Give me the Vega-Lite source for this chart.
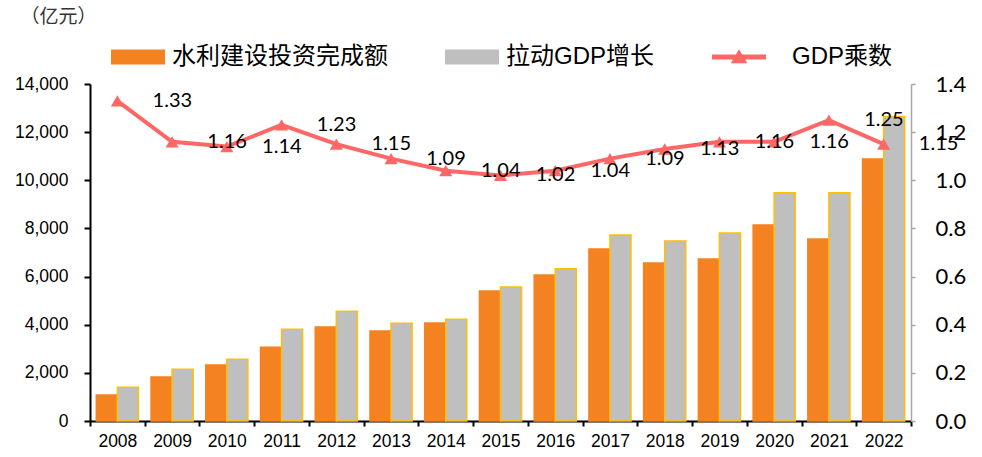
{
  "$schema": "https://vega.github.io/schema/vega-lite/v6.json",
  "width": 821,
  "height": 337,
  "autosize": {"type": "none"},
  "padding": {"left": 90, "top": 84, "right": 71, "bottom": 36},
  "background": "white",
  "config": {"view": {"stroke": null}, "axis": {"grid": false}},
  "datasets": {
    "bars": [
      {"year": "2008", "series": "水利建设投资完成额", "value": 1080},
      {"year": "2009", "series": "水利建设投资完成额", "value": 1828},
      {"year": "2010", "series": "水利建设投资完成额", "value": 2326},
      {"year": "2011", "series": "水利建设投资完成额", "value": 3060},
      {"year": "2012", "series": "水利建设投资完成额", "value": 3905},
      {"year": "2013", "series": "水利建设投资完成额", "value": 3739},
      {"year": "2014", "series": "水利建设投资完成额", "value": 4071},
      {"year": "2015", "series": "水利建设投资完成额", "value": 5400},
      {"year": "2016", "series": "水利建设投资完成额", "value": 6066},
      {"year": "2017", "series": "水利建设投资完成额", "value": 7146},
      {"year": "2018", "series": "水利建设投资完成额", "value": 6564},
      {"year": "2019", "series": "水利建设投资完成额", "value": 6731},
      {"year": "2020", "series": "水利建设投资完成额", "value": 8143},
      {"year": "2021", "series": "水利建设投资完成额", "value": 7561},
      {"year": "2022", "series": "水利建设投资完成额", "value": 10885},
      {"year": "2008", "series": "拉动GDP增长", "value": 1400},
      {"year": "2009", "series": "拉动GDP增长", "value": 2150},
      {"year": "2010", "series": "拉动GDP增长", "value": 2570},
      {"year": "2011", "series": "拉动GDP增长", "value": 3810},
      {"year": "2012", "series": "拉动GDP增长", "value": 4560},
      {"year": "2013", "series": "拉动GDP增长", "value": 4060},
      {"year": "2014", "series": "拉动GDP增长", "value": 4230},
      {"year": "2015", "series": "拉动GDP增长", "value": 5570},
      {"year": "2016", "series": "拉动GDP增长", "value": 6320},
      {"year": "2017", "series": "拉动GDP增长", "value": 7730},
      {"year": "2018", "series": "拉动GDP增长", "value": 7480},
      {"year": "2019", "series": "拉动GDP增长", "value": 7810},
      {"year": "2020", "series": "拉动GDP增长", "value": 9480},
      {"year": "2021", "series": "拉动GDP增长", "value": 9480},
      {"year": "2022", "series": "拉动GDP增长", "value": 12650}
    ],
    "mult": [
      {"year": "2008", "m": 1.33},
      {"year": "2009", "m": 1.16},
      {"year": "2010", "m": 1.14},
      {"year": "2011", "m": 1.23},
      {"year": "2012", "m": 1.15},
      {"year": "2013", "m": 1.09},
      {"year": "2014", "m": 1.04},
      {"year": "2015", "m": 1.02},
      {"year": "2016", "m": 1.04},
      {"year": "2017", "m": 1.09},
      {"year": "2018", "m": 1.13},
      {"year": "2019", "m": 1.16},
      {"year": "2020", "m": 1.16},
      {"year": "2021", "m": 1.25},
      {"year": "2022", "m": 1.15}
    ]
  },
  "encoding": {
    "x": {
      "field": "year",
      "type": "nominal",
      "scale": {"paddingInner": 0, "paddingOuter": 0},
      "axis": {
        "labelAngle": 0,
        "tickBand": "extent",
        "domainColor": "#000",
        "domainWidth": 2,
        "tickColor": "#000",
        "tickWidth": 2,
        "tickSize": 5,
        "labelFont": "Liberation Sans",
        "labelFontSize": 17.5,
        "labelColor": "#000",
        "labelPadding": 6,
        "title": null
      }
    }
  },
  "layer": [
    {
      "data": {"name": "bars"},
      "mark": {"type": "bar", "strokeWidth": 1.5},
      "encoding": {
        "xOffset": {
          "field": "series",
          "type": "nominal",
          "sort": ["水利建设投资完成额", "拉动GDP增长"],
          "scale": {"paddingOuter": 0.3, "paddingInner": 0}
        },
        "y": {
          "field": "value",
          "type": "quantitative",
          "scale": {"domain": [0, 14000], "nice": false},
          "axis": {
            "orient": "left",
            "values": [0, 2000, 4000, 6000, 8000, 10000, 12000, 14000],
            "format": ",.0f",
            "domainColor": "#000",
            "domainWidth": 2,
            "tickColor": "#000",
            "tickWidth": 2,
            "tickSize": 6,
            "labelFont": "Liberation Sans",
            "labelFontSize": 17.5,
            "labelColor": "#000",
            "labelPadding": 16,
            "title": "（亿元）",
            "titleAngle": 0,
            "titleX": -70,
            "titleY": -68,
            "titleAlign": "left",
            "titleBaseline": "middle",
            "titleFont": "Noto Sans CJK SC",
            "titleFontSize": 19,
            "titleFontWeight": "normal",
            "titleColor": "#333"
          }
        },
        "color": {
          "field": "series",
          "type": "nominal",
          "scale": {
            "domain": ["水利建设投资完成额", "拉动GDP增长", "GDP乘数"],
            "range": ["#F58220", "#BFBFBF", "#FF6666"]
          },
          "legend": {
            "orient": "none",
            "legendX": 21,
            "legendY": -54,
            "direction": "horizontal",
            "title": null,
            "symbolSize": 2704,
            "labelFontSize": 24,
            "labelFont": "Liberation Sans, Noto Sans CJK SC",
            "labelColor": "#000",
            "labelOffset": 7,
            "labelLimit": 400,
            "columnPadding": 54,
            "encode": {
              "symbols": {
                "update": {
                  "shape": {"signal": "datum.value === 'GDP乘数' ? 'M-1,-0.055H1V0.055H-1Z M-0.25,0.2L0,-0.22L0.25,0.2Z' : 'M-1,-0.25H1V0.25H-1Z'"},
                  "fill": {"signal": "datum.value === '水利建设投资完成额' ? '#F58220' : datum.value === '拉动GDP增长' ? '#BFBFBF' : '#FF6666'"},
                  "stroke": {"signal": "datum.value === '拉动GDP增长' ? '#FFC000' : 'transparent'"},
                  "strokeWidth": {"value": 2},
                  "opacity": {"value": 1},
                  "fillOpacity": {"value": 1}
                }
              },
              "labels": {
                "update": {
                  "dx": {"signal": "datum.value === 'GDP乘数' ? 19 : 0"}
                }
              }
            }
          }
        },
        "stroke": {
          "field": "series",
          "type": "nominal",
          "scale": {
            "domain": ["水利建设投资完成额", "拉动GDP增长"],
            "range": ["#F58220", "#FFC000"]
          },
          "legend": null
        }
      }
    },
    {
      "data": {"name": "mult"},
      "encoding": {
        "y": {
          "field": "m",
          "type": "quantitative",
          "scale": {"domain": [0, 1.4], "nice": false, "zero": true},
          "axis": {
            "orient": "right",
            "values": [0, 0.2, 0.4, 0.6, 0.8, 1.0, 1.2, 1.4],
            "format": ".1f",
            "domainColor": "#A6A6A6",
            "domainWidth": 1.5,
            "tickColor": "#A6A6A6",
            "tickWidth": 1.5,
            "tickSize": 4,
            "labelFont": "Lato",
            "labelFontSize": 22,
            "labelColor": "#000",
            "labelPadding": 20,
            "title": null
          }
        }
      },
      "layer": [
        {
          "mark": {"type": "line", "strokeWidth": 4},
          "encoding": {"color": {"datum": "GDP乘数"}}
        },
        {
          "mark": {"type": "point", "shape": "triangle-up", "filled": true, "size": 170, "opacity": 1},
          "encoding": {"color": {"datum": "GDP乘数"}}
        },
        {
          "mark": {"type": "text", "dx": 55, "font": "Lato", "fontSize": 20, "color": "#000", "baseline": "middle", "align": "center"},
          "encoding": {"text": {"field": "m", "type": "quantitative", "format": ".2f"}}
        }
      ]
    }
  ],
  "resolve": {"scale": {"y": "independent"}}
}
